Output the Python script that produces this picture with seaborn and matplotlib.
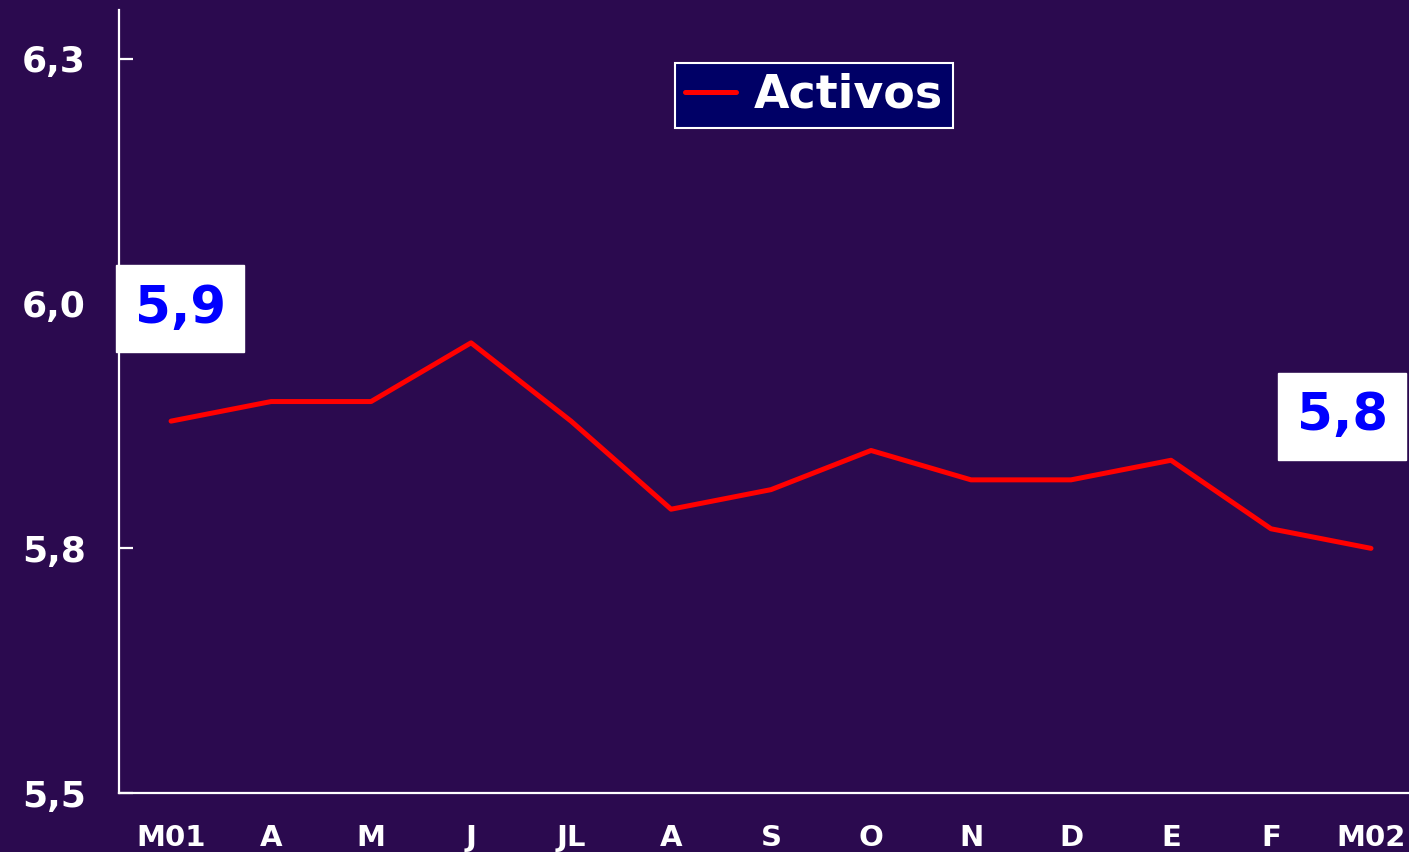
import matplotlib
matplotlib.use("Agg")
import matplotlib.pyplot as plt
import seaborn as sns
import pandas as pd

# Monthly values
months = ["M01", "A", "M", "J", "JL", "A", "S", "O", "N", "D", "E", "F", "M02"]
activos = [5.88, 5.90, 5.90, 5.96, 5.88, 5.79, 5.81, 5.85, 5.82, 5.82, 5.84, 5.77, 5.75]
yticks = [5.5, 5.75, 6.0, 6.25]
ytick_labels = ["5,5", "5,8", "6,0", "6,3"]
first_label = "5,9"
last_label = "5,8"

bg = "#2B0A4F"
sns.set_theme(style="white")
plt.rcParams["font.family"] = ["DejaVu Sans"]
plt.rcParams["font.weight"] = "bold"

df = pd.DataFrame({"pos": range(len(months)), "Activos": activos})

fig = plt.figure(figsize=(14.09, 8.52), dpi=100, facecolor=bg)
ax = fig.add_axes([0.0845, 0.0692, 0.9155, 0.919])
ax.set_facecolor(bg)

sns.lineplot(data=df, x="pos", y="Activos", color="#FF0000", linewidth=3.6, label="Activos", ax=ax)

ax.set_xlim(-0.52, 12.38)
ax.set_ylim(5.5, 6.3)
ax.set_xticks(range(len(months)))
ax.set_xticklabels(months)
ax.set_yticks(yticks)
ax.set_yticklabels(ytick_labels)
ax.set_xlabel("")
ax.set_ylabel("")

for side in ["top", "right"]:
    ax.spines[side].set_visible(False)
for side in ["left", "bottom"]:
    ax.spines[side].set_color("white")
    ax.spines[side].set_linewidth(1.6)

ax.tick_params(axis="y", left=True, direction="in", length=10, width=1.6, color="white",
               labelcolor="white", labelsize=26, pad=24)
ax.tick_params(axis="x", bottom=False, length=0, labelcolor="white", labelsize=21, pad=22)
for lbl in ax.get_xticklabels() + ax.get_yticklabels():
    lbl.set_fontweight("bold")

# value boxes at start and end
box = dict(boxstyle="square,pad=0.36", facecolor="white", edgecolor="white")
ax.text(0.09, 5.995, first_label, color="#0000FF", fontsize=37, fontweight="bold",
        ha="center", va="center", bbox=box)
ax.text(11.71, 5.885, last_label, color="#0000FF", fontsize=37, fontweight="bold",
        ha="center", va="center", bbox=box)

leg = ax.legend(loc="center", bbox_to_anchor=(0.539, 0.891), fontsize=33,
                frameon=True, fancybox=False, facecolor="#000066", edgecolor="white",
                handlelength=1.1, borderpad=0.22, borderaxespad=0, handletextpad=0.4)
leg.get_frame().set_linewidth(1.5)
leg.get_frame().set_alpha(1)
for t in leg.get_texts():
    t.set_color("white")
    t.set_fontweight("bold")

fig.savefig("out.png", dpi=100, facecolor=bg)
plt.close(fig)
